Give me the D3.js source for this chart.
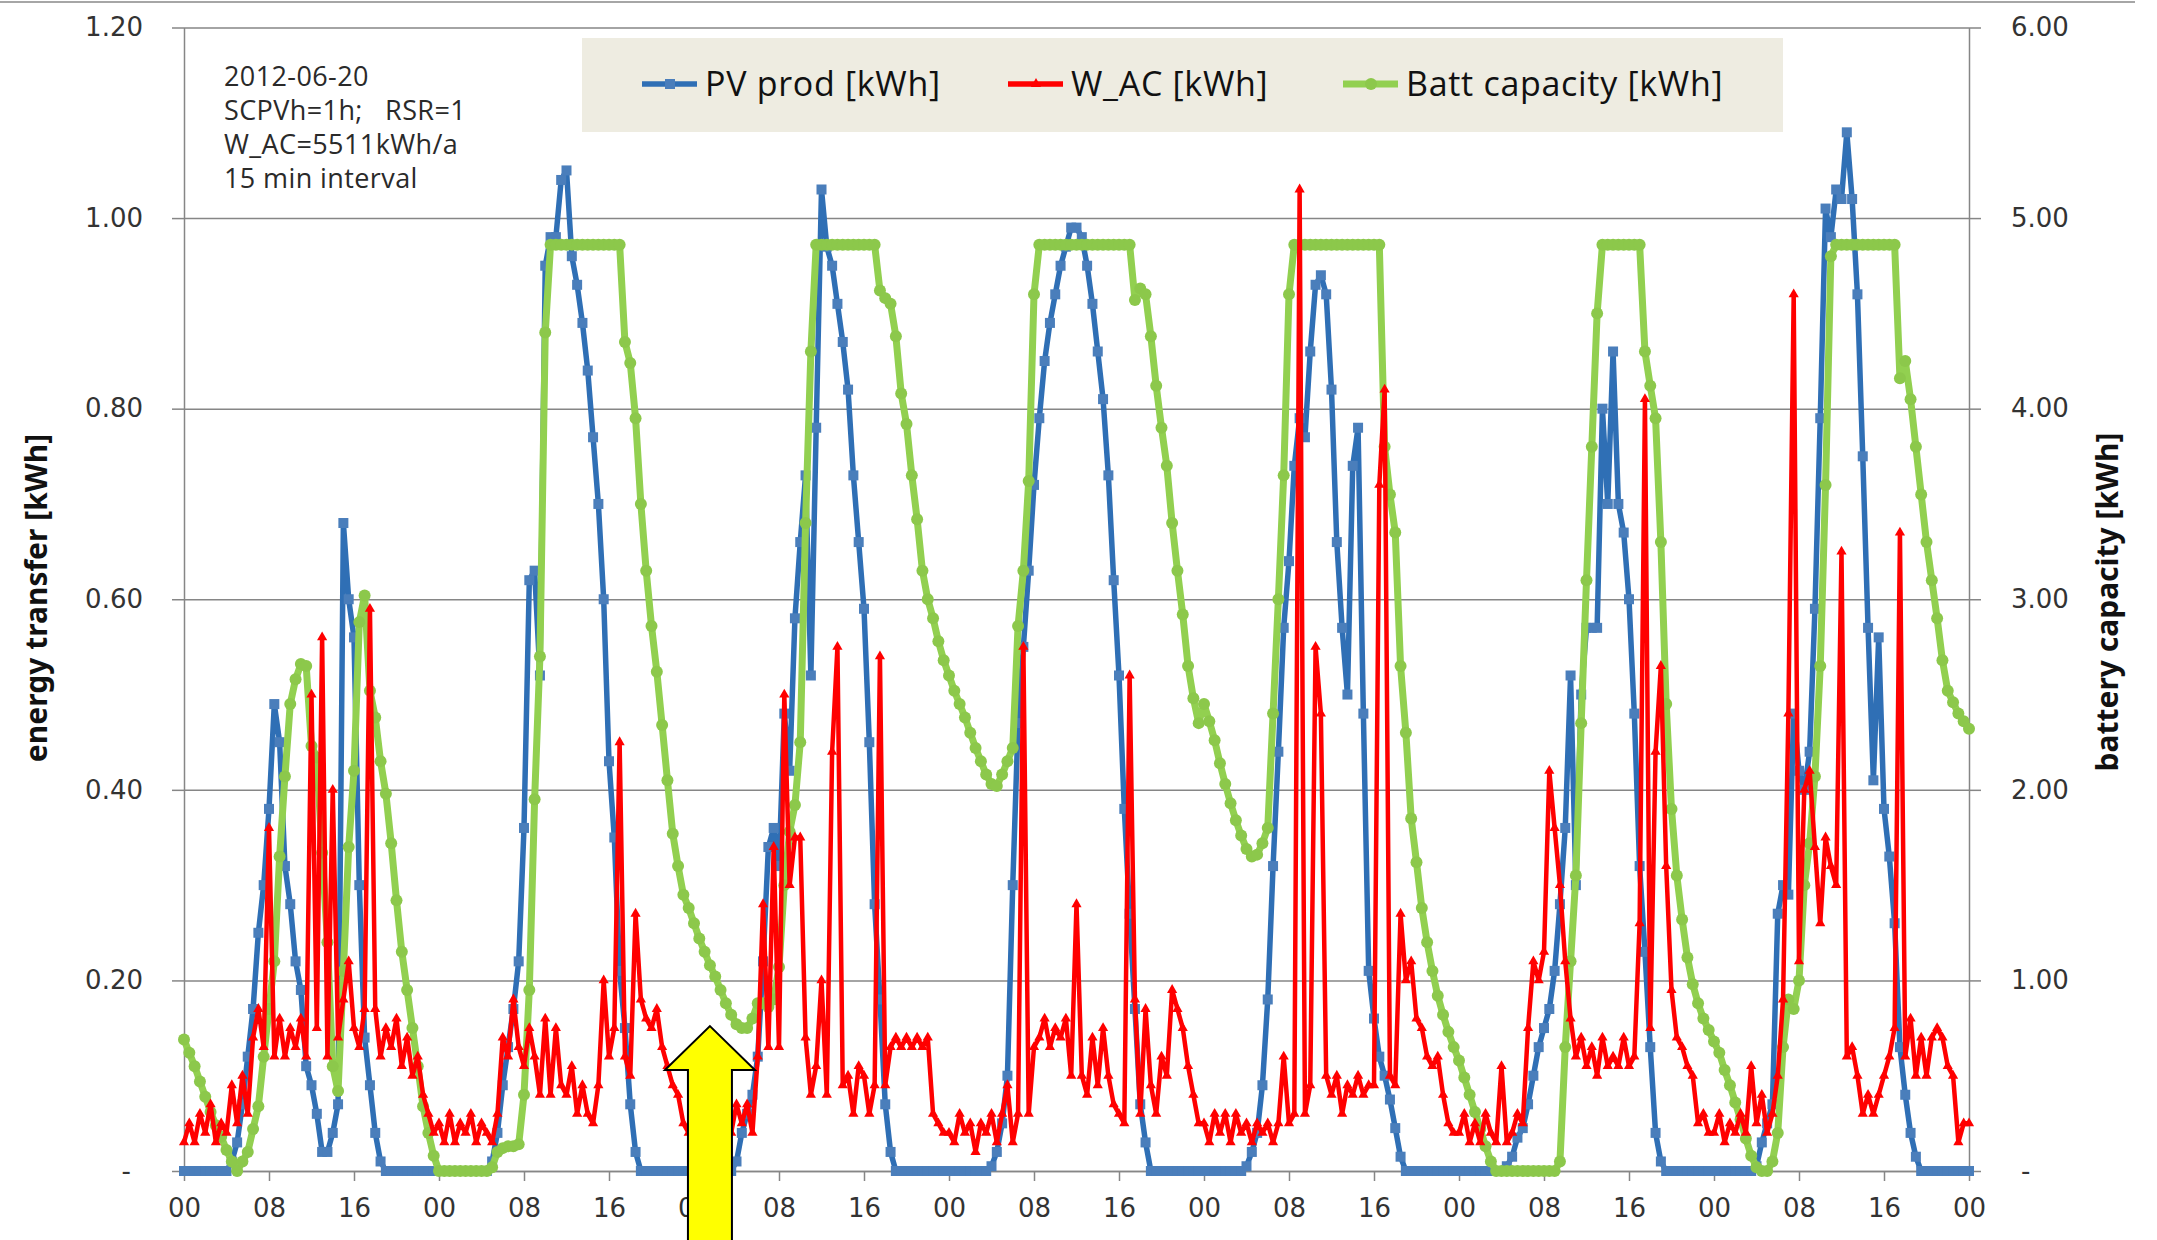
<!DOCTYPE html>
<html lang="en">
<head>
<meta charset="UTF-8">
<title>PV production, W_AC and battery capacity</title>
<style>
    body { margin: 0; background: #fff; }
    .tick text { font: 26px "DejaVu Sans", sans-serif; fill: #333; }
    .tick line, .domain { stroke: #868686; stroke-width: 1.5; }
    .note { font: 27px "Open Sans", sans-serif; fill: #2a2a2a; white-space: pre; letter-spacing: 0.4px; }
    .legend text { font: 34px "Open Sans", sans-serif; fill: #111; letter-spacing: 0.7px; }
    .axis-title { font: bold 30px "Noto Sans", sans-serif; fill: #111; }
</style>
</head>
<body>
<svg id="chart" width="2157" height="1240"></svg>
<script src="https://d3js.org/d3.v7.min.js"></script>
<script>

// 30 min steps, 7 days (00:00 day 1 .. 00:00 day 8)
var stepHours = 0.5;
var hourLabels = ["00", "08", "16"];
var leftTicks = [0, 0.2, 0.4, 0.6, 0.8, 1.0, 1.2];
var rightTicks = [0, 1, 2, 3, 4, 5, 6];
var noteLines = ["2012-06-20", "SCPVh=1h;   RSR=1", "W_AC=5511kWh/a", "15 min interval"];
var seriesNames = ["PV prod [kWh]", "W_AC [kWh]", "Batt capacity [kWh]"];

var pvProd = [
    0,0,0,0,0,0,0,0,0,0.01,0.03,0.07,
    0.12,0.17,0.25,0.30,0.38,0.49,0.45,0.32,0.28,0.22,0.19,0.11,
    0.09,0.06,0.02,0.02,0.04,0.07,0.68,0.60,0.56,0.30,0.14,0.09,
    0.04,0.01,0,0,0,0,0,0,0,0,0,0,
    0,0,0,0,0,0,0,0,0,0,0.01,0.04,
    0.09,0.13,0.17,0.22,0.36,0.62,0.63,0.52,0.95,0.98,0.98,1.04,
    1.05,0.96,0.93,0.89,0.84,0.77,0.70,0.60,0.43,0.35,0.21,0.15,
    0.07,0.02,0,0,0,0,0,0,0,0,0,0,
    0,0,0,0,0,0,0,0,0.01,0.04,0.06,0.08,
    0.12,0.22,0.34,0.36,0.32,0.48,0.42,0.58,0.66,0.73,0.52,0.78,
    1.03,0.97,0.95,0.91,0.87,0.82,0.73,0.66,0.59,0.45,0.28,0.18,
    0.07,0.02,0,0,0,0,0,0,0,0,0,0,
    0,0,0,0,0,0,0,0,0.005,0.02,0.05,0.10,
    0.30,0.47,0.55,0.63,0.72,0.79,0.85,0.89,0.92,0.95,0.97,0.99,
    0.99,0.98,0.95,0.91,0.86,0.81,0.73,0.62,0.52,0.38,0.27,0.17,
    0.07,0.03,0,0,0,0,0,0,0,0,0,0,
    0,0,0,0,0,0,0,0,0.005,0.02,0.04,0.09,
    0.18,0.32,0.44,0.57,0.64,0.74,0.79,0.77,0.86,0.93,0.94,0.92,
    0.82,0.66,0.57,0.50,0.74,0.78,0.48,0.21,0.16,0.12,0.10,0.075,
    0.045,0.015,0,0,0,0,0,0,0,0,0,0,
    0,0,0,0,0,0,0,0,0,0.005,0.015,0.035,
    0.045,0.07,0.10,0.13,0.15,0.17,0.21,0.28,0.36,0.52,0.30,0.50,
    0.57,0.57,0.57,0.80,0.70,0.86,0.70,0.67,0.60,0.48,0.32,0.23,
    0.13,0.04,0.01,0,0,0,0,0,0,0,0,0,
    0,0,0,0,0,0,0,0,0.005,0.03,0.05,0.07,
    0.27,0.30,0.29,0.48,0.42,0.40,0.44,0.59,0.79,1.01,0.98,1.03,
    1.02,1.09,1.02,0.92,0.75,0.57,0.41,0.56,0.38,0.33,0.26,0.13,
    0.08,0.04,0.015,0,0,0,0,0,0,0,0,0,
    0
];

var wAC = [
    0.03,0.05,0.03,0.06,0.04,0.07,0.03,0.05,0.04,0.09,0.05,0.10,
    0.06,0.14,0.17,0.13,0.36,0.12,0.16,0.12,0.15,0.13,0.16,0.12,
    0.50,0.15,0.56,0.12,0.40,0.14,0.18,0.22,0.15,0.13,0.17,0.59,
    0.17,0.12,0.15,0.13,0.16,0.11,0.14,0.10,0.12,0.08,0.06,0.04,
    0.05,0.03,0.06,0.03,0.05,0.04,0.06,0.03,0.05,0.04,0.03,0.06,
    0.14,0.12,0.18,0.13,0.11,0.15,0.12,0.08,0.16,0.08,0.15,0.09,
    0.08,0.11,0.06,0.09,0.06,0.05,0.09,0.20,0.12,0.15,0.45,0.12,
    0.10,0.27,0.18,0.16,0.15,0.17,0.13,0.11,0.09,0.08,0.05,0.04,
    0.05,0.03,0.06,0.02,0.05,0.03,0.06,0.04,0.07,0.05,0.07,0.04,
    0.12,0.28,0.13,0.34,0.13,0.50,0.30,0.35,0.35,0.14,0.08,0.11,
    0.20,0.08,0.44,0.55,0.09,0.10,0.06,0.11,0.10,0.06,0.09,0.54,
    0.09,0.13,0.14,0.13,0.14,0.13,0.14,0.13,0.14,0.06,0.05,0.04,
    0.04,0.03,0.06,0.04,0.05,0.02,0.05,0.04,0.06,0.03,0.06,0.09,
    0.03,0.06,0.55,0.06,0.13,0.14,0.16,0.13,0.15,0.14,0.16,0.10,
    0.28,0.10,0.08,0.14,0.09,0.15,0.10,0.07,0.06,0.05,0.52,0.18,
    0.06,0.17,0.09,0.06,0.12,0.10,0.19,0.17,0.15,0.11,0.08,0.05,
    0.05,0.03,0.06,0.04,0.06,0.03,0.06,0.04,0.05,0.03,0.05,0.04,
    0.05,0.03,0.05,0.12,0.05,0.06,1.03,0.06,0.09,0.55,0.48,0.10,
    0.08,0.10,0.06,0.09,0.08,0.10,0.08,0.09,0.09,0.72,0.82,0.10,
    0.09,0.27,0.20,0.22,0.16,0.15,0.12,0.11,0.12,0.08,0.05,0.04,
    0.04,0.06,0.03,0.05,0.03,0.06,0.04,0.03,0.11,0.03,0.04,0.06,
    0.05,0.15,0.22,0.20,0.23,0.42,0.36,0.30,0.22,0.16,0.12,0.14,
    0.11,0.13,0.10,0.14,0.11,0.12,0.11,0.14,0.11,0.12,0.26,0.81,
    0.15,0.44,0.53,0.32,0.19,0.14,0.13,0.11,0.10,0.05,0.06,0.04,
    0.04,0.06,0.03,0.05,0.04,0.06,0.04,0.11,0.05,0.08,0.04,0.06,
    0.10,0.18,0.48,0.92,0.22,0.40,0.42,0.34,0.26,0.35,0.32,0.30,
    0.65,0.12,0.13,0.10,0.06,0.08,0.06,0.08,0.10,0.12,0.15,0.67,
    0.12,0.16,0.10,0.14,0.10,0.14,0.15,0.14,0.11,0.10,0.03,0.05,
    0.05
];

var battCap = [
    0.69,0.62,0.55,0.47,0.39,0.31,0.24,0.18,0.11,0.05,0.00,0.05,
    0.10,0.22,0.34,0.60,0.85,1.10,1.65,2.07,2.45,2.58,2.66,2.65,
    2.23,2.17,1.67,1.20,0.55,0.42,1.05,1.70,2.10,2.88,3.02,2.52,
    2.38,2.15,1.98,1.72,1.42,1.15,0.95,0.75,0.55,0.34,0.20,0.08,
    0,0,0,0,0,0,0,0,0,0,0.02,0.10,
    0.12,0.13,0.13,0.14,0.40,0.95,1.95,2.70,4.40,4.86,4.86,4.86,
    4.86,4.86,4.86,4.86,4.86,4.86,4.86,4.86,4.86,4.86,4.86,4.35,
    4.24,3.95,3.50,3.15,2.86,2.62,2.34,2.05,1.77,1.60,1.45,1.38,
    1.30,1.22,1.15,1.08,1.02,0.95,0.88,0.82,0.77,0.75,0.75,0.80,
    0.88,0.88,0.86,0.90,1.07,1.50,1.78,1.92,2.25,3.40,4.30,4.86,
    4.86,4.86,4.86,4.86,4.86,4.86,4.86,4.86,4.86,4.86,4.86,4.62,
    4.58,4.55,4.38,4.08,3.92,3.65,3.42,3.15,3.00,2.90,2.78,2.68,
    2.60,2.52,2.45,2.38,2.30,2.22,2.15,2.08,2.03,2.02,2.08,2.15,
    2.22,2.86,3.15,3.62,4.60,4.86,4.86,4.86,4.86,4.86,4.86,4.86,
    4.86,4.86,4.86,4.86,4.86,4.86,4.86,4.86,4.86,4.86,4.86,4.57,
    4.63,4.60,4.38,4.12,3.90,3.70,3.40,3.15,2.92,2.65,2.48,2.35,
    2.45,2.36,2.26,2.14,2.03,1.93,1.84,1.76,1.69,1.65,1.66,1.72,
    1.80,2.40,3.00,3.65,4.60,4.86,4.86,4.86,4.86,4.86,4.86,4.86,
    4.86,4.86,4.86,4.86,4.86,4.86,4.86,4.86,4.86,4.86,3.80,3.55,
    3.35,2.65,2.30,1.85,1.62,1.38,1.20,1.05,0.92,0.82,0.73,0.65,
    0.58,0.49,0.40,0.31,0.22,0.13,0.05,0,0,0,0,0,
    0,0,0,0,0,0,0,0.05,0.65,1.10,1.55,2.35,
    3.10,3.80,4.50,4.86,4.86,4.86,4.86,4.86,4.86,4.86,4.86,4.30,
    4.12,3.95,3.30,2.45,1.90,1.55,1.32,1.12,0.98,0.88,0.80,0.74,
    0.68,0.62,0.53,0.45,0.36,0.27,0.17,0.08,0.02,0,0,0.05,
    0.20,0.65,0.90,0.85,1.00,1.50,1.72,2.07,2.65,3.60,4.80,4.86,
    4.86,4.86,4.86,4.86,4.86,4.86,4.86,4.86,4.86,4.86,4.86,4.16,
    4.25,4.05,3.80,3.55,3.30,3.10,2.90,2.68,2.52,2.46,2.40,2.36,
    2.32
];

// yellow arrow (annotation) : hour and energy value of its tip
var arrowHour = 49.5, arrowTip = 0.152, arrowBase = 0.106;

var svg = d3.select("#chart"),
    plot = {left: 184, right: 1969, top: 27.5, bottom: 1171};

var x = d3.scaleLinear().domain([0, 168]).range([plot.left, plot.right]);
var yL = d3.scaleLinear().domain([0, 1.2]).range([plot.bottom, plot.top]);
var yR = d3.scaleLinear().domain([0, 6]).range([plot.bottom, plot.top]);

// line at the very top of the picture
svg.append("line")
    .attr("x1", 0).attr("x2", 2135).attr("y1", 2).attr("y2", 2)
    .attr("stroke", "#a6a6a6").attr("stroke-width", 2);

// grid
svg.append("g")
    .attr("transform", "translate(" + plot.left + ",0)")
    .call(d3.axisLeft(yL).tickValues(leftTicks).tickSize(-(plot.right - plot.left)).tickFormat(""))
    .call(function(g) { g.select(".domain").remove(); });

var fmt = function(v) { return v === 0 ? "-" : v.toFixed(2); };

var gLeft = svg.append("g")
    .attr("transform", "translate(" + plot.left + ",0)")
    .call(d3.axisLeft(yL).tickValues(leftTicks).tickSize(12).tickSizeOuter(0).tickPadding(29).tickFormat(fmt));
gLeft.selectAll(".tick text").filter(function(d) { return d === 0; }).attr("dx", -12);

var gRight = svg.append("g")
    .attr("transform", "translate(" + plot.right + ",0)")
    .call(d3.axisRight(yR).tickValues(rightTicks).tickSize(12).tickSizeOuter(0).tickPadding(30).tickFormat(fmt));
gRight.selectAll(".tick text").filter(function(d) { return d === 0; }).attr("dx", 10);

var gBottom = svg.append("g")
    .attr("transform", "translate(0," + plot.bottom + ")")
    .call(d3.axisBottom(x).tickValues(d3.range(0, 169, 8)).tickSize(10).tickSizeOuter(0).tickPadding(18)
        .tickFormat(function(h) { return hourLabels[(h / 8) % 3]; }));

svg.selectAll(".domain").attr("stroke", "#868686").attr("stroke-width", 1.5);

// axis titles
svg.append("text").attr("class", "axis-title")
    .attr("transform", "translate(47,598) rotate(-90)")
    .attr("text-anchor", "middle")
    .text("energy transfer [kWh]");
svg.append("text").attr("class", "axis-title")
    .attr("transform", "translate(2118,602) rotate(-90)")
    .attr("text-anchor", "middle")
    .text("battery capacity [kWh]");

// series
var hourOf = function(d, i) { return x(i * stepHours); };

function drawLine(data, y, color, width) {
    svg.append("path")
        .datum(data)
        .attr("fill", "none")
        .attr("stroke", color)
        .attr("stroke-width", width)
        .attr("stroke-linejoin", "round")
        .attr("d", d3.line().x(hourOf).y(function(d) { return y(d); }));
}

drawLine(pvProd, yL, "#2f6fb5", 5.5);
svg.append("g").selectAll("rect")
    .data(pvProd).enter().append("rect")
    .attr("x", function(d, i) { return hourOf(d, i) - 5; })
    .attr("y", function(d) { return yL(d) - 5; })
    .attr("width", 10).attr("height", 10)
    .attr("fill", "#4a7ebb");

drawLine(battCap, yR, "#92d050", 7);
svg.append("g").selectAll("circle")
    .data(battCap).enter().append("circle")
    .attr("cx", hourOf)
    .attr("cy", function(d) { return yR(d); })
    .attr("r", 6)
    .attr("fill", "#8cc84b");

drawLine(wAC, yL, "#ff0000", 4.5);
var tri = d3.symbol().type(d3.symbolTriangle).size(45);
svg.append("g").selectAll("path")
    .data(wAC).enter().append("path")
    .attr("d", tri)
    .attr("transform", function(d, i) { return "translate(" + hourOf(d, i) + "," + yL(d) + ")"; })
    .attr("fill", "#ff0000");

// info text
svg.append("g").selectAll("text")
    .data(noteLines).enter().append("text")
    .attr("class", "note")
    .attr("x", 224)
    .attr("y", function(d, i) { return 86 + i * 34; })
    .text(function(d) { return d; });

// legend
var legend = svg.append("g").attr("class", "legend");
legend.append("rect")
    .attr("x", 582).attr("y", 38).attr("width", 1201).attr("height", 94)
    .attr("fill", "#eeece1");
var legendX = [642, 1008, 1343];
var legendColor = ["#2f6fb5", "#ff0000", "#92d050"];
var legendItem = legend.selectAll(".item")
    .data(seriesNames).enter().append("g")
    .attr("class", "item")
    .attr("transform", function(d, i) { return "translate(" + legendX[i] + ",84)"; });
legendItem.append("line")
    .attr("x1", 0).attr("x2", 55)
    .attr("stroke", function(d, i) { return legendColor[i]; })
    .attr("stroke-width", function(d, i) { return i === 2 ? 7 : 5.5; });
legendItem.each(function(d, i) {
    var g = d3.select(this);
    if (i === 0) {
        g.append("rect").attr("x", 23).attr("y", -5).attr("width", 10).attr("height", 10).attr("fill", "#4a7ebb");
    } else if (i === 1) {
        g.append("path").attr("d", tri).attr("transform", "translate(28,0)").attr("fill", "#ff0000");
    } else {
        g.append("circle").attr("cx", 28).attr("r", 6).attr("fill", "#8cc84b");
    }
});
legendItem.append("text")
    .attr("x", 63)
    .attr("dy", "0.35em")
    .text(function(d) { return d; });

// yellow arrow
var ax = x(arrowHour), tipY = yL(arrowTip), baseY = yL(arrowBase);
var arrowPts = [
    [ax, tipY], [ax + 45, baseY], [ax + 22, baseY], [ax + 22, 1250],
    [ax - 22, 1250], [ax - 22, baseY], [ax - 45, baseY]
];
svg.append("polygon")
    .attr("points", arrowPts.map(function(p) { return p.join(","); }).join(" "))
    .attr("fill", "#ffff00")
    .attr("stroke", "#000")
    .attr("stroke-width", 2);

</script>
</body>
</html>
